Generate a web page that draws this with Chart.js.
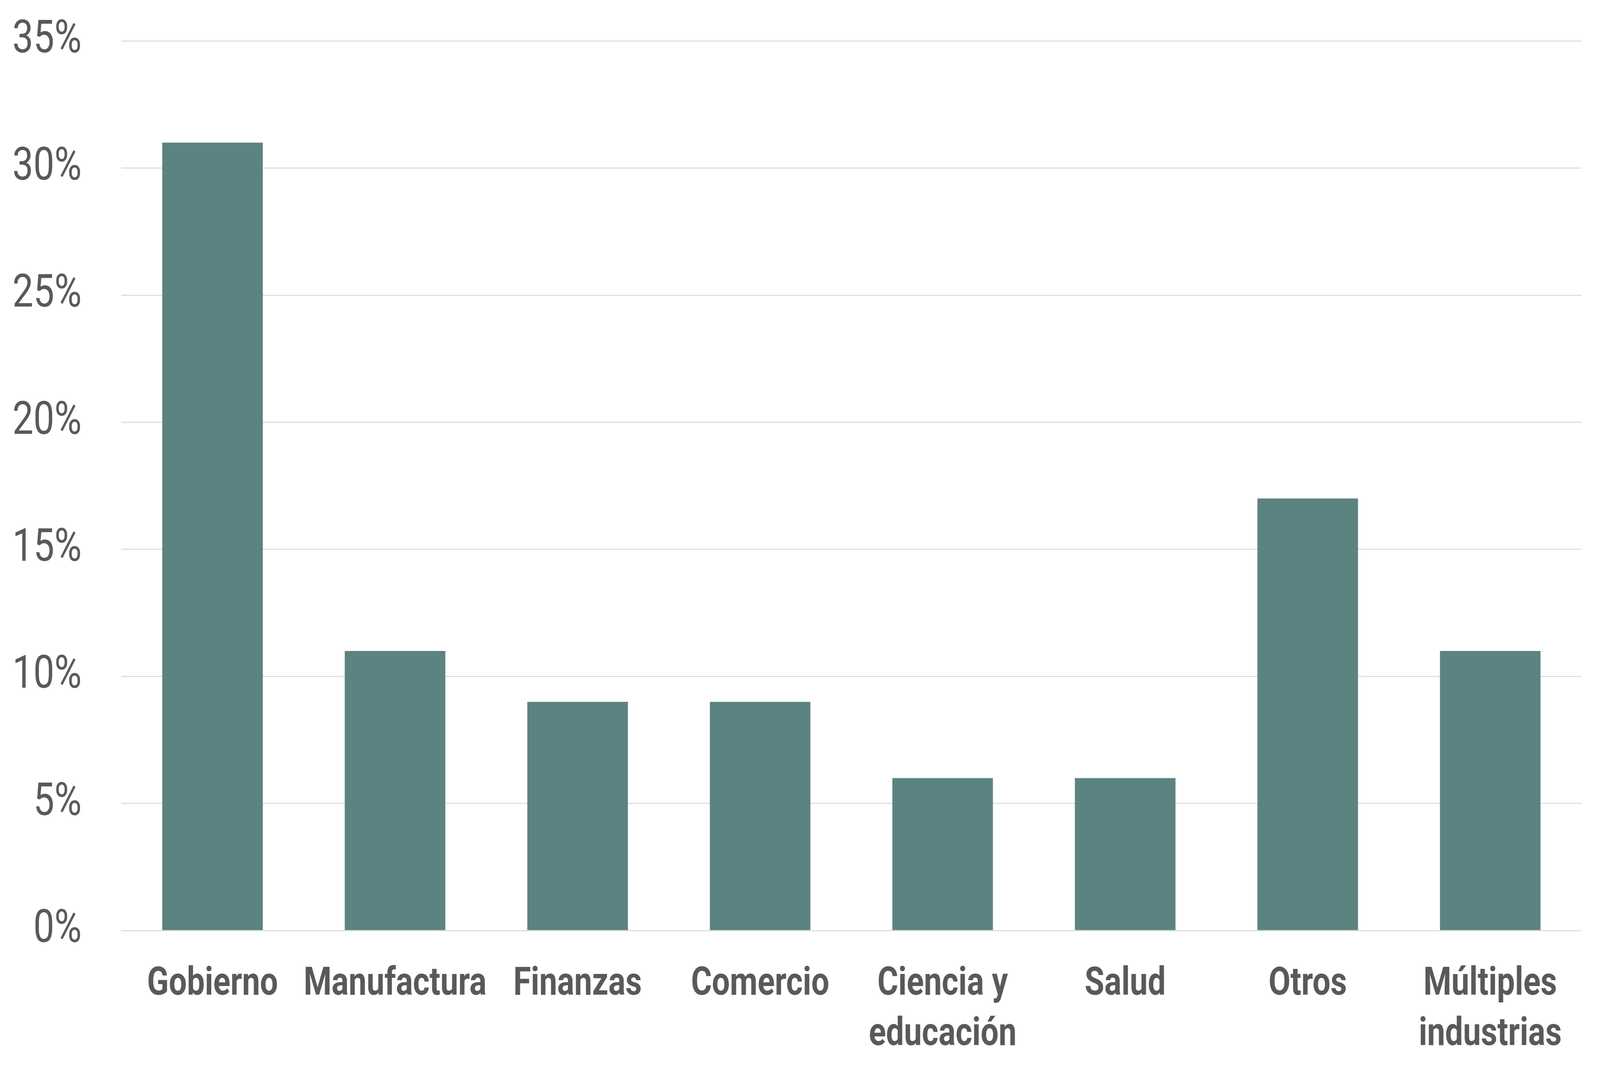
<!DOCTYPE html>
<html>
<head>
<meta charset="utf-8">
<script src="https://cdn.jsdelivr.net/npm/chart.js@4"></script>
<style>
  html, body { margin: 0; padding: 0; background: #fff; overflow: hidden; }
  #wrap { width: 5014px; height: 2740px; transform-origin: 0 0; }
</style>
</head>
<body>
<div id="wrap"><canvas id="chart" width="5014" height="2740"></canvas></div>
<script>
const categories = ['Gobierno', 'Manufactura', 'Finanzas', 'Comercio', ['Ciencia y', 'educación'], 'Salud', 'Otros', ['Múltiples', 'industrias']];
const shares = [31, 11, 9, 9, 6, 6, 17, 11];
const yTicks = [0, 5, 10, 15, 20, 25, 30, 35];

const textGrey = '#595959';
const gridGrey = '#d9d9d9';

// the chart is laid out for 5014x2740; squeeze it into whatever window we get
const wrap = document.getElementById('wrap');
wrap.style.transform = `scale(${window.innerWidth / 5014}, ${window.innerHeight / 2740})`;

const ctx = document.getElementById('chart').getContext('2d');
new Chart(ctx, {
  type: 'bar',
  data: {
    labels: categories,
    datasets: [{
      data: shares,
      backgroundColor: '#5b8381',
      borderWidth: 0,
      categoryPercentage: 1,
      barPercentage: 0.551
    }]
  },
  options: {
    responsive: false,
    devicePixelRatio: 1,
    animation: false,
    layout: { padding: { top: 105, right: 58, bottom: 0, left: 0 } },
    plugins: {
      legend: { display: false },
      tooltip: { enabled: false }
    },
    scales: {
      x: {
        grid: { display: false },
        border: { display: false },
        ticks: {
          color: textGrey,
          padding: 66,
          maxRotation: 0,
          autoSkip: false,
          font: { family: 'Roboto', size: 100, weight: 'bold', lineHeight: 1.29 }
        },
        afterFit: s => { s.height = 357; }
      },
      y: {
        min: 0,
        max: 35,
        afterBuildTicks: s => { s.ticks = yTicks.map(v => ({ value: v })); },
        grid: { color: gridGrey, lineWidth: 2.5, drawTicks: false },
        border: { display: false },
        ticks: {
          color: textGrey,
          padding: 124,
          font: { family: 'Roboto', size: 117 },
          callback: v => v + '%'
        },
        // fixed width, and no extra room above/below for the end labels
        afterFit: s => {
          s.width = 380;
          s.paddingTop = 0;
          s.paddingBottom = 0;
        }
      }
    }
  }
});
</script>
</body>
</html>
